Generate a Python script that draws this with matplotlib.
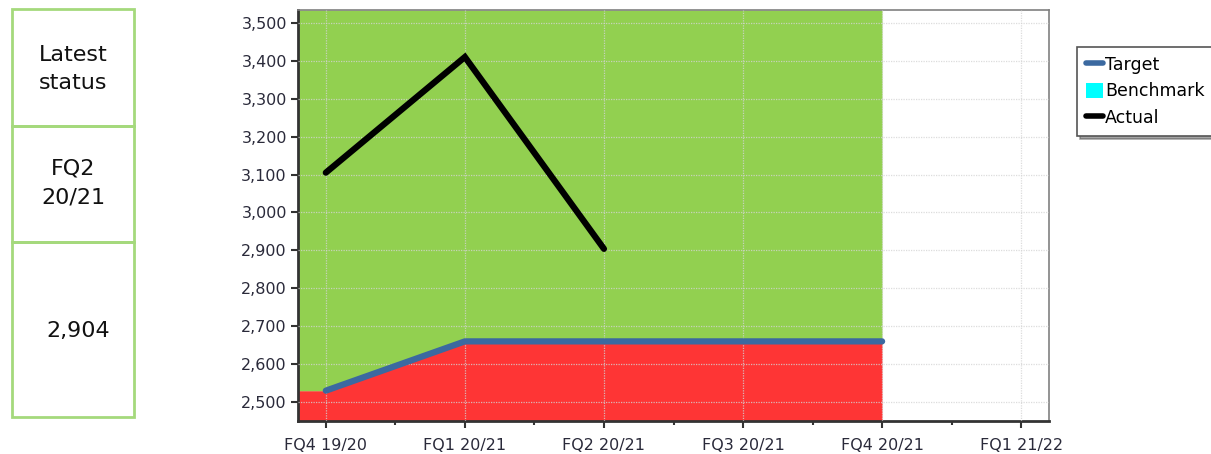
import matplotlib
matplotlib.use("Agg")
import matplotlib.pyplot as plt
from matplotlib.lines import Line2D
from matplotlib.patches import Patch, Rectangle
from matplotlib.ticker import FuncFormatter, MultipleLocator
import numpy as np

categories = ["FQ4 19/20", "FQ1 20/21", "FQ2 20/21", "FQ3 20/21", "FQ4 20/21", "FQ1 21/22"]
target = [2530, 2660, 2660, 2660, 2660]
actual = [3105, 3410, 2904]
latest_period = "FQ2\n20/21"
latest_value = "2,904"

y_min, y_max = 2450, 3534
x_lo, x_hi = -0.2, 5.2

red = "#fe3535"
green = "#92d050"
target_col = "#3b69a0"
box_green = "#a5d97c"

fig = plt.figure(figsize=(12.11, 4.54), dpi=100)
ax = fig.add_axes([298/1211, 1 - 421/454, (1049-298)/1211, (421-10)/454])

x = np.arange(len(categories))
xt = x[:len(target)]
xf = np.concatenate([[x_lo], xt])
tf = np.concatenate([[target[0]], target])

ax.fill_between(xf, y_min, tf, color=red, linewidth=0, zorder=1)
ax.fill_between(xf, tf, y_max, color=green, linewidth=0, zorder=1)

ax.plot(xt, target, color=target_col, lw=4.5, solid_capstyle="round", zorder=3)
ax.plot(x[:len(actual)], actual, color="black", lw=4.5, solid_capstyle="round",
        solid_joinstyle="miter", zorder=4)

ax.set_xlim(x_lo, x_hi)
ax.set_ylim(y_min, y_max)
ax.set_xticks(x)
ax.set_xticklabels(categories)
ax.xaxis.set_minor_locator(MultipleLocator(0.5))
ax.yaxis.set_major_locator(MultipleLocator(100))
ax.yaxis.set_major_formatter(FuncFormatter(lambda v, p: f"{int(v):,}"))
ax.tick_params(axis="both", which="major", direction="out", length=5, width=1.5,
               labelsize=11.5, colors="#333333", labelcolor="#2a2a3a")
ax.tick_params(axis="x", which="minor", direction="out", length=3, width=1.5, colors="#333333")
ax.tick_params(axis="x", pad=7)
ax.tick_params(axis="y", pad=3)
ax.grid(True, which="major", color="#d4d4d4", linestyle=(0, (1, 1)), linewidth=0.9,
        alpha=0.8, zorder=2)
ax.set_axisbelow(False)
for s in ["left", "bottom"]:
    ax.spines[s].set_linewidth(2)
    ax.spines[s].set_color("#333333")
for s in ["top", "right"]:
    ax.spines[s].set_linewidth(1.2)
    ax.spines[s].set_color("#808080")

# left status panel
edges = [9, 126, 242, 417]
for i in range(3):
    top, bot = edges[i], edges[i + 1]
    r = Rectangle((12/1211, 1 - bot/454), (134-12)/1211, (bot-top)/454,
                  transform=fig.transFigure, fill=False, edgecolor=box_green,
                  linewidth=2)
    fig.add_artist(r)
fig.text(73/1211, 1 - 69/454, "Latest\nstatus", ha="center", va="center",
         fontsize=16, linespacing=1.55, color="#111111")
fig.text(73/1211, 1 - 183/454, latest_period, ha="center", va="center",
         fontsize=16, linespacing=1.6, color="#111111")
fig.text(78/1211, 1 - 331/454, latest_value, ha="center", va="center",
         fontsize=16, color="#111111")

handles = [Line2D([], [], color=target_col, lw=4, solid_capstyle="round"),
           Patch(facecolor="#00ffff", edgecolor="none"),
           Line2D([], [], color="black", lw=4, solid_capstyle="round")]
leg = fig.legend(handles, ["Target", "Benchmark", "Actual"], loc="upper left",
                 bbox_to_anchor=(1077/1211, 1 - 47/454), frameon=True, fancybox=False,
                 shadow=True, fontsize=12.5, handlelength=1.0, handleheight=1.0,
                 handletextpad=0.1, labelspacing=0.5, borderpad=0.5, borderaxespad=0)
leg.get_frame().set_edgecolor("#555555")
leg.get_frame().set_linewidth(1.2)

fig.savefig("out.png", dpi=100)
